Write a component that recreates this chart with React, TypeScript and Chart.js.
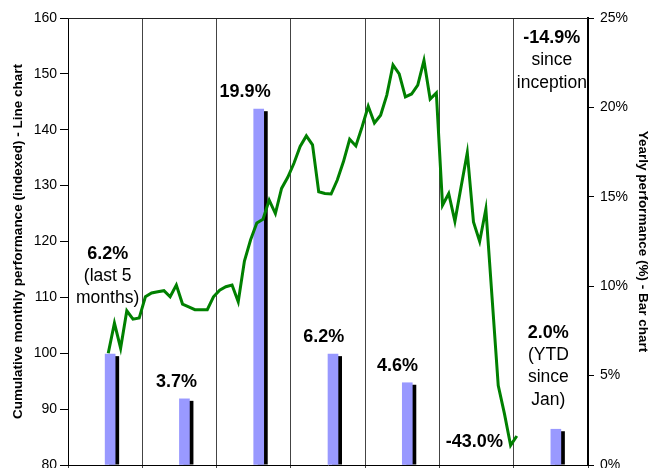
import React, { useEffect, useRef } from 'react';
import { Chart, registerables } from 'chart.js';

Chart.register(...registerables);

// ---------- data ----------
const years = ['2003', '2004', '2005', '2006', '2007', '2008', '2009'];
const monthNames = ['Jan', 'Feb', 'Mar', 'Apr', 'May', 'Jun', 'Jul', 'Aug', 'Sep', 'Oct', 'Nov', 'Dec'];
const monthLabels = years.flatMap((y) => monthNames.map((m) => `${m} ${y}`));

// yearly performance (%), bar chart, right axis
const yearlyPerformance = [6.2, 3.7, 19.9, 6.2, 4.6, -43.0, 2.0];

// cumulative monthly performance (indexed), line chart, left axis
const lineStartMonth = 'Jul 2003';
const cumulativeIndex = [
  100.0, 105.4, 100.9, 107.6, 106.1, 106.3,
  110.1, 110.8, 111.0, 111.2, 110.1, 112.2, 108.8, 108.3, 107.8, 107.8, 107.8, 110.1,
  111.3, 111.9, 112.2, 109.2, 116.5, 120.3, 123.3, 124.0, 127.4, 125.0, 129.5, 131.5,
  134.0, 137.0, 138.9, 137.3, 128.9, 128.6, 128.5, 131.0, 134.3, 138.3, 137.1, 140.5,
  144.2, 141.2, 142.6, 146.2, 151.6, 150.0, 145.9, 146.4, 148.0, 152.4, 145.5, 146.6,
  126.5, 128.6, 123.6, 129.8, 135.9, 123.5, 120.0, 125.8, 110.0, 94.2, 89.2, 83.5,
  85.2,
];

const leftMin = 80;
const leftMax = 160;
const leftStep = 10;
const rightMin = 0;
const rightMax = 25;
const rightStep = 5;

const leftTitle = 'Cumulative monthly performance (indexed) - Line chart';
const rightTitle = 'Yearly performance (%) - Bar chart';

const fmt = (v: number) => `${v.toFixed(1)}%`;

// text annotations: year, pixel nudge, first-line centre in left-axis units
const annotations = [
  { year: '2003', dx: 2.5, y: 117.8, lines: [fmt(yearlyPerformance[0]), '(last 5', 'months)'] },
  { year: '2004', dx: -3, y: 94.9, lines: [fmt(yearlyPerformance[1])] },
  { year: '2005', dx: -8.6, y: 146.7, lines: [fmt(yearlyPerformance[2])] },
  { year: '2006', dx: -4.2, y: 102.9, lines: [fmt(yearlyPerformance[3])] },
  { year: '2007', dx: -4.8, y: 97.8, lines: [fmt(yearlyPerformance[4])] },
  { year: '2008', dx: -2.2, y: 84.2, lines: [fmt(yearlyPerformance[5])] },
  { year: '2009', dx: 1, y: 156.4, lines: ['-14.9%', 'since', 'inception'] },
  { year: '2009', dx: -2.5, y: 103.7, lines: [fmt(yearlyPerformance[6]), '(YTD', 'since', 'Jan)'] },
];

const FONT = "'Liberation Sans', Arial, Helvetica, sans-serif";

const barShadow = {
  id: 'barShadow',
  beforeDatasetDraw(chart: any, args: any) {
    const ds = chart.data.datasets[args.index];
    if (!ds.shadow) return;
    const { ctx, chartArea } = chart;
    ctx.save();
    ctx.beginPath();
    ctx.rect(chartArea.left, chartArea.top, chartArea.right - chartArea.left, chartArea.bottom - chartArea.top);
    ctx.clip();
    ctx.fillStyle = '#000000';
    args.meta.data.forEach((el: any) => {
      const { x, y, base, width } = el.getProps(['x', 'y', 'base', 'width'], true);
      if (!(y < base)) return;
      ctx.fillRect(x - width / 2 + 4, y + 2, width, base - y - 2);
    });
    ctx.restore();
  },
};

const frame = {
  id: 'frame',
  beforeDatasetsDraw(chart: any) {
    const { ctx, chartArea } = chart;
    ctx.save();
    ctx.strokeStyle = '#222';
    ctx.lineWidth = 1;
    ctx.beginPath();
    ctx.moveTo(chartArea.left, chartArea.top + 0.5);
    ctx.lineTo(chartArea.right, chartArea.top + 0.5);
    ctx.stroke();
    ctx.restore();
  },
};

const texts = {
  id: 'texts',
  afterDatasetsDraw(chart: any) {
    const { ctx } = chart;
    const xs = chart.scales.x;
    const ys = chart.scales.y;
    ctx.save();
    ctx.fillStyle = '#000';
    ctx.textAlign = 'center';
    ctx.textBaseline = 'middle';
    annotations.forEach((a) => {
      const x = xs.getPixelForValue(years.indexOf(a.year)) + a.dx;
      const y0 = ys.getPixelForValue(a.y);
      a.lines.forEach((t, i) => {
        ctx.font = i === 0 ? `bold 18px ${FONT}` : `17.5px ${FONT}`;
        ctx.fillText(t, x, y0 + i * 22.4);
      });
    });
    ctx.restore();
  },
};

const noPad = (s: any) => {
  s.paddingTop = 0;
  s.paddingBottom = 0;
};

export default function App() {
  const ref = useRef<HTMLCanvasElement | null>(null);

  useEffect(() => {
    document.body.style.margin = '0';
    const canvas = ref.current;
    if (!canvas) return;
    Chart.defaults.font.family = FONT;
    Chart.defaults.color = '#000';

    const startIdx = monthLabels.indexOf(lineStartMonth);
    const lineData = cumulativeIndex.map((v, i) => ({ x: monthLabels[startIdx + i], y: v }));

    const chart = new Chart(canvas, {
      type: 'bar',
      data: {
        labels: years,
        datasets: [
          {
            type: 'line',
            label: 'Cumulative',
            data: lineData as any,
            xAxisID: 'xm',
            yAxisID: 'y',
            borderColor: '#008000',
            borderWidth: 3,
            pointRadius: 0,
            tension: 0,
            fill: false,
            order: 0,
          } as any,
          {
            type: 'bar',
            label: 'Yearly',
            data: yearlyPerformance,
            xAxisID: 'x',
            yAxisID: 'y1',
            backgroundColor: '#9999FF',
            barThickness: 10,
            shadow: true,
            order: 1,
          } as any,
        ],
      },
      options: {
        responsive: false,
        animation: false,
        layout: { padding: { top: 18, left: 0, right: 0, bottom: 0 } },
        plugins: { legend: { display: false }, tooltip: { enabled: false }, title: { display: false } },
        scales: {
          x: {
            type: 'category',
            offset: true,
            ticks: { display: false },
            grid: { display: true, offset: true, color: '#444', lineWidth: 1, tickLength: 3, drawTicks: true },
            border: { display: true, color: '#000', width: 1 },
            afterFit: (s: any) => { s.height = 3; s.paddingLeft = 0; s.paddingRight = 0; },
          },
          xm: {
            type: 'category',
            labels: monthLabels,
            offset: true,
            display: false,
          },
          y: {
            type: 'linear',
            position: 'left',
            min: leftMin,
            max: leftMax,
            ticks: { stepSize: leftStep, padding: 3, color: '#000', font: { size: 14 } },
            grid: { drawOnChartArea: false, drawTicks: true, tickLength: 8, color: '#000' },
            border: { display: true, color: '#000', width: 1 },
            title: { display: true, text: leftTitle, color: '#000', font: { size: 13.5, weight: 'bold' }, padding: { top: 10, bottom: 0 } },
            afterFit: (s: any) => { s.width = 68; noPad(s); },
          },
          y1: {
            type: 'linear',
            position: 'right',
            min: rightMin,
            max: rightMax,
            ticks: { stepSize: rightStep, padding: 6, color: '#000', font: { size: 14 }, callback: (v: any) => `${v}%` },
            grid: { drawOnChartArea: false, drawTicks: true, tickLength: 6, color: '#000' },
            border: { display: true, color: '#000', width: 2 },
            title: { display: true, text: rightTitle, color: '#000', font: { size: 13.5, weight: 'bold' }, padding: { top: 0, bottom: 0 } },
            afterFit: (s: any) => { s.width = 63; noPad(s); },
          },
        },
      } as any,
      plugins: [barShadow, frame, texts],
    });
    return () => chart.destroy();
  }, []);

  return (
    <div style={{ width: 651, height: 468, background: '#fff' }}>
      <canvas ref={ref} width={651} height={468} style={{ display: 'block' }} />
    </div>
  );
}
